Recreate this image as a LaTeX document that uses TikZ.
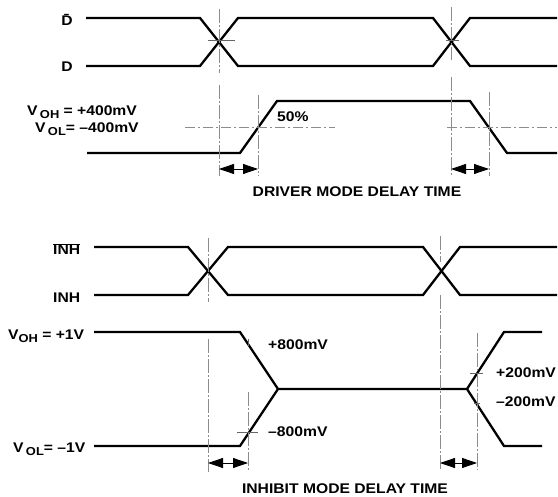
\documentclass[tikz,border=0pt]{standalone}
\usepackage{fontspec}
\setmainfont{Liberation Sans}[FakeStretch=1.12]
\usetikzlibrary{arrows.meta, positioning}
\tikzset{
  sig/.style={line width=2.3pt, line join=miter},
  guide/.style={black!45, line width=0.6pt, dash pattern=on 14pt off 2pt on 2pt off 2pt},
  halfline/.style={black!45, line width=0.6pt, dash pattern=on 10pt off 3pt on 2pt off 3pt},
  tickline/.style={black!60, line width=0.6pt},
  txt/.style={font=\fontsize{14}{15}\selectfont\bfseries, inner sep=0pt},
  delayarrow/.style={line width=0.8pt, {Triangle[length=15pt,width=10pt]}-{Triangle[length=15pt,width=10pt]}}
}
\newcommand{\lowsub}[1]{\raisebox{-3pt}{\fontsize{11.5}{12}\selectfont #1}}

\begin{document}
\begin{tikzpicture}[x=1pt, y=-1pt]
    \useasboundingbox (0,0) rectangle (558,497);

    % driver mode: inputs
    \node (dbar) [txt, anchor=base] at (67,26) {\=D};
    \node (d) [txt, anchor=base] at (67,72) {D};
    \draw[sig] (86,18) -- (200,18) -- (238,66) -- (433,66) -- (470,18) -- (557,18);
    \draw[sig] (86,66) -- (200,66) -- (238,18) -- (433,18) -- (470,66) -- (557,66);

    % driver mode: output
    \node (voha) [txt, anchor=base west] at (27,116) {V\,\lowsub{OH} = +400mV};
    \node (vola) [txt, anchor=base west] at (35,133) {V\,\lowsub{OL}= --400mV};
    \draw[sig] (87,153) -- (240,153) -- (277,101) -- (470,101) -- (507,153) -- (557,153);
    \node (pct) [txt, anchor=base west] at (277,122) {50\%};

    % guides and 50% level
    \draw[guide] (219,9) -- (219,73);
    \draw[tickline] (208,40) -- (235,40);
    \draw[guide] (219,85) -- (219,176);
    \draw[guide] (258,95) -- (258,176);
    \draw[guide] (451,7) -- (451,60);
    \draw[tickline] (446,40) -- (459,40);
    \draw[guide] (451,77) -- (451,176);
    \draw[guide] (489,92) -- (489,176);
    \draw[halfline] (185,127) -- (335,127);
    \draw[halfline] (447,127) -- (557,127);

    % delay arrows
    \draw[delayarrow] (219,169) -- (258,169);
    \draw[delayarrow] (451,169) -- (489,169);
    \node (drvcap) [txt, anchor=base] at (357,197) {DRIVER MODE DELAY TIME};

    % inhibit mode: inputs
    \node (inhbar) [txt, anchor=base west] at (53,255) {$\overline{\mbox{INH}}$};
    \node (inh) [txt, anchor=base west] at (53,303) {INH};
    \draw[sig] (94,247) -- (188,247) -- (228,295) -- (423,295) -- (460,247) -- (557,247);
    \draw[sig] (94,295) -- (188,295) -- (228,247) -- (423,247) -- (460,295) -- (557,295);

    % inhibit mode: output
    \node (vohb) [txt, anchor=base west] at (8,340) {V\lowsub{OH} = +1V};
    \node (volb) [txt, anchor=base west] at (13,453) {V\,\lowsub{OL}= --1V};
    \draw[sig] (94,332) -- (240,332) -- (278,389) -- (467,389) -- (504,332) -- (542,332);
    \draw[sig] (94,446) -- (240,446) -- (278,389);
    \draw[sig] (467,389) -- (504,446) -- (542,446);
    \node (pa) [txt, anchor=base west] at (268,350) {+800mV};
    \node (ma) [txt, anchor=base west] at (268,437) {--800mV};
    \node (pb) [txt, anchor=base west] at (496,378) {+200mV};
    \node (mb) [txt, anchor=base west] at (496,407) {--200mV};

    % guides and thresholds
    \draw[guide] (208,238) -- (208,302);
    \draw[guide] (208,339) -- (208,472);
    \draw[tickline] (248,339) -- (248,346);
    \draw[guide] (248,392) -- (248,470);
    \draw[tickline] (237,432) -- (258,432);
    \draw[guide] (440,236) -- (440,262);
    \draw[guide] (440,295) -- (440,470);
    \draw[guide] (477,333) -- (477,470);
    \draw[tickline] (470,373) -- (483,373);
    \draw[tickline] (474,403) -- (480,403);

    % delay arrows
    \draw[delayarrow] (208,463) -- (248,463);
    \draw[delayarrow] (440,463) -- (477,463);
    \node (inhcap) [txt, anchor=base] at (345,494) {INHIBIT MODE DELAY TIME};
  \end{tikzpicture}
\end{document}
